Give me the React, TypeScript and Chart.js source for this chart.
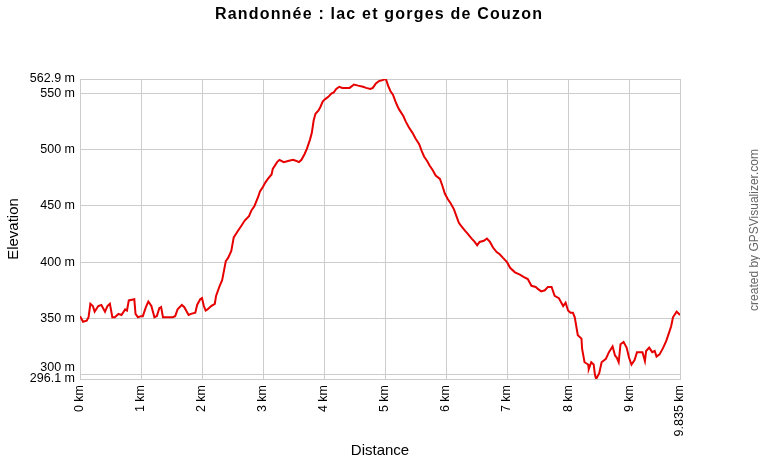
import React, { useEffect, useRef } from "react";
import { Chart, registerables } from "chart.js";

Chart.register(...registerables);

const chartTitle = "Randonnée : lac et gorges de Couzon";
const creditText = "created by GPSVisualizer.com";
const xAxisTitle = "Distance";
const yAxisTitle = "Elevation";

const distanceKm = [
  0.0, 0.05, 0.11, 0.14, 0.17, 0.21, 0.24, 0.3, 0.35, 0.41, 0.45, 0.49, 0.53, 0.57, 0.63, 0.68, 0.74, 0.77,
  0.8, 0.89, 0.91, 0.95, 1.0, 1.03, 1.08, 1.12, 1.17, 1.22, 1.26, 1.3, 1.33, 1.36, 1.41, 1.46, 1.52, 1.56,
  1.6, 1.67, 1.71, 1.78, 1.82, 1.89, 1.92, 1.97, 2.0, 2.03, 2.06, 2.09, 2.15, 2.21, 2.23, 2.29, 2.33, 2.39,
  2.43, 2.48, 2.52, 2.59, 2.64, 2.7, 2.77, 2.81, 2.86, 2.92, 2.95, 3.0, 3.04, 3.08, 3.14, 3.16, 3.23, 3.27,
  3.34, 3.41, 3.49, 3.55, 3.59, 3.63, 3.68, 3.72, 3.77, 3.8, 3.83, 3.86, 3.91, 3.94, 3.98, 4.02, 4.07, 4.12,
  4.16, 4.2, 4.25, 4.3, 4.37, 4.42, 4.49, 4.56, 4.64, 4.69, 4.76, 4.8, 4.85, 4.9, 4.96, 5.0, 5.02, 5.05,
  5.09, 5.13, 5.17, 5.21, 5.24, 5.3, 5.34, 5.39, 5.45, 5.5, 5.56, 5.6, 5.64, 5.69, 5.73, 5.78, 5.83, 5.9,
  5.94, 5.98, 6.03, 6.08, 6.13, 6.17, 6.21, 6.25, 6.31, 6.36, 6.42, 6.47, 6.51, 6.55, 6.62, 6.67, 6.72, 6.77,
  6.83, 6.88, 6.93, 7.0, 7.05, 7.13, 7.21, 7.27, 7.34, 7.4, 7.47, 7.51, 7.56, 7.62, 7.67, 7.73, 7.78, 7.85,
  7.89, 7.92, 7.96, 8.0, 8.04, 8.08, 8.11, 8.16, 8.22, 8.23, 8.27, 8.33, 8.34, 8.38, 8.42, 8.44, 8.46, 8.51,
  8.55, 8.62, 8.67, 8.73, 8.77, 8.8, 8.83, 8.86, 8.91, 8.96, 9.0, 9.04, 9.09, 9.13, 9.17, 9.22, 9.26, 9.28,
  9.33, 9.38, 9.42, 9.45, 9.5, 9.56, 9.61, 9.66, 9.69, 9.72, 9.78, 9.835,
];

const elevationM = [
  352, 347, 348, 351, 363, 361, 356, 361, 362, 356, 361, 363, 351, 351, 354, 353, 358, 357,
  366, 367, 354, 351, 352, 352, 360, 365, 361, 351, 352, 359, 360, 351, 351, 351, 351, 352,
  358, 362, 360, 353, 354, 355, 362, 367, 368, 361, 357, 358, 361, 363, 370, 379, 384, 401,
  404, 410, 422, 428, 432, 437, 441, 446, 450, 458, 463, 467, 471, 474, 478, 483, 489, 491,
  489, 490, 491, 490, 489, 491, 496, 501, 509, 515, 526, 532, 535, 538, 543, 545, 547, 550,
  551, 554, 556, 555, 555, 555, 558, 557, 556, 555, 554, 555, 559, 561, 562, 562.9, 562, 557,
  552, 549, 543, 538, 535, 530, 525, 520, 515, 510, 505, 499, 494, 490, 486, 482, 477, 474,
  468, 461, 456, 452, 447, 441, 435, 432, 428, 425, 421, 418, 415, 418, 419, 421, 418, 413,
  409, 407, 404, 400, 395, 391, 389, 387, 385, 379, 378, 376, 374, 375, 378, 378, 370, 368,
  364, 361, 364, 357, 355, 355, 351, 335, 332, 323, 311, 309, 305, 311, 309, 300, 296.1, 301,
  311, 314, 320, 325, 317, 315, 311, 327, 329, 324, 315, 309, 313, 320, 320, 320, 312, 321,
  324, 320, 321, 316, 318, 324, 330, 338, 343, 351, 356, 353,
];

const yTickValues = [296.1, 300, 350, 400, 450, 500, 550, 562.9];
const xTickValues = [0, 1, 2, 3, 4, 5, 6, 7, 8, 9, 9.835];

const FONT = '"Liberation Sans", Arial, Helvetica, sans-serif';

const textPlugin = {
  id: "gpsTexts",
  afterDraw(chart: any) {
    const ctx = chart.ctx as CanvasRenderingContext2D;
    const area = chart.chartArea;
    ctx.save();
    ctx.fillStyle = "#000";
    ctx.font = `bold 16px ${FONT}`;
    (ctx as any).letterSpacing = "1.2px";
    ctx.textAlign = "center";
    ctx.textBaseline = "alphabetic";
    ctx.fillText(chartTitle, chart.width / 2 - 1, 18.5);
    ctx.restore();

    ctx.save();
    ctx.translate(chart.width - 5, (area.top + area.bottom) / 2 + 1);
    ctx.rotate(-Math.PI / 2);
    ctx.font = `12px ${FONT}`;
    ctx.fillStyle = "#666";
    ctx.textAlign = "center";
    ctx.textBaseline = "middle";
    ctx.fillText(creditText, 0, 0);
    ctx.restore();
  },
};

export default function App() {
  const ref = useRef<HTMLCanvasElement | null>(null);

  useEffect(() => {
    document.body.style.margin = "0";
    const canvas = ref.current;
    if (!canvas) return;
    const points = distanceKm.map((d, i) => ({ x: d, y: elevationM[i] }));
    const chart = new Chart(canvas, {
      type: "line",
      data: {
        datasets: [
          {
            label: "Elevation",
            data: points,
            borderColor: "#e60000",
            borderWidth: 2,
            pointRadius: 0,
            tension: 0,
            fill: false,
          },
        ],
      },
      options: {
        animation: false,
        responsive: false,
        maintainAspectRatio: false,
        devicePixelRatio: 1,
        layout: { padding: { top: 79, right: 80, bottom: 0, left: 0 } },
        plugins: {
          legend: { display: false },
          tooltip: { enabled: false },
          title: { display: false },
        },
        scales: {
          x: {
            type: "linear",
            min: 0,
            max: 9.835,
            afterBuildTicks: (scale: any) => {
              scale.ticks = xTickValues.map((v) => ({ value: v }));
            },
            afterFit: (scale: any) => {
              scale.height = 81;
            },
            grid: { color: "#cccccc", drawTicks: false, lineWidth: 1 },
            border: { color: "#cccccc" },
            ticks: {
              autoSkip: false,
              minRotation: 90,
              maxRotation: 90,
              padding: 6,
              color: "#000",
              font: { family: FONT, size: 12.5 },
              callback: (v: any) => `${v} km`,
            },
            title: {
              display: true,
              text: xAxisTitle,
              color: "#000",
              font: { family: FONT, size: 15 },
              padding: { top: 0, bottom: 0 },
            },
          },
          y: {
            type: "linear",
            min: 296.1,
            max: 562.9,
            afterBuildTicks: (scale: any) => {
              scale.ticks = yTickValues.map((v) => ({ value: v }));
            },
            afterFit: (scale: any) => {
              scale.width = 80;
            },
            grid: { color: "#cccccc", drawTicks: false, lineWidth: 1 },
            border: { color: "#cccccc" },
            ticks: {
              autoSkip: false,
              padding: 5,
              color: "#000",
              font: { family: FONT, size: 12.5 },
              callback: (v: any) => (v === 300 ? [`${v} m`, ""] : `${v} m`),
            },
            title: {
              display: true,
              text: yAxisTitle,
              color: "#000",
              font: { family: FONT, size: 15 },
              padding: { top: 5, bottom: 5 },
            },
          },
        },
      },
      plugins: [textPlugin],
    });
    return () => chart.destroy();
  }, []);

  return (
    <div style={{ position: "absolute", left: 0, top: 0, width: 760, height: 460 }}>
      <canvas ref={ref} width={760} height={460} style={{ width: 760, height: 460, display: "block" }} />
    </div>
  );
}
